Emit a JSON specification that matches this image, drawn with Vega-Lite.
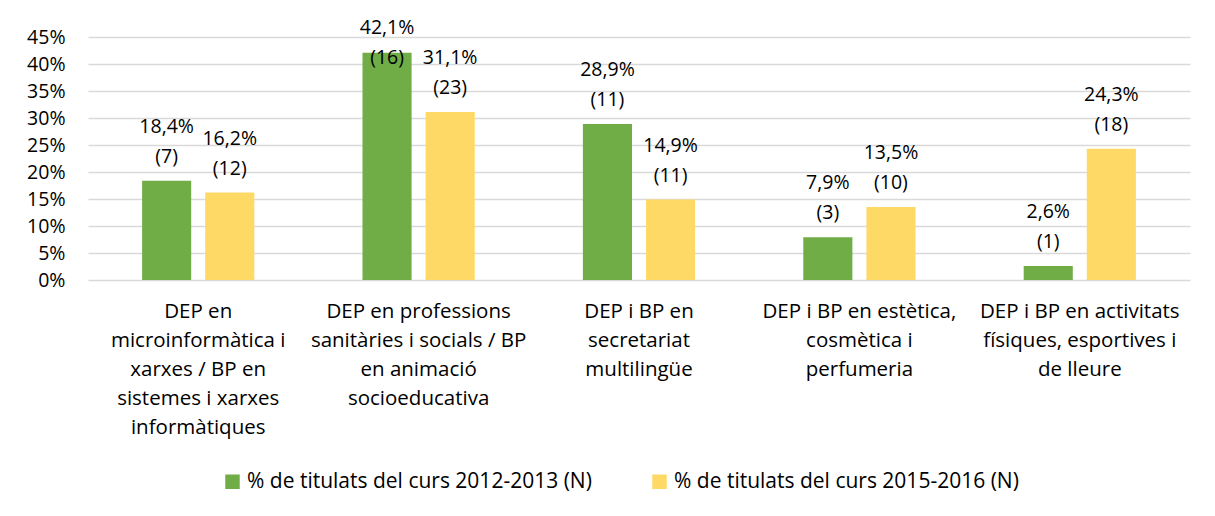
{
  "$schema": "https://vega.github.io/schema/vega-lite/v6.json",
  "width": 1102,
  "height": 243,
  "autosize": {"type": "none"},
  "padding": {"left": 88, "top": 37, "right": 25, "bottom": 236},
  "background": "white",
  "data": {
    "values": [
      {"cat": "DEP en|microinformàtica i|xarxes / BP en|sistemes i xarxes|informàtiques", "series": "% de titulats del curs 2012-2013 (N)", "pct": 0.184, "nLabel": "(7)"},
      {"cat": "DEP en|microinformàtica i|xarxes / BP en|sistemes i xarxes|informàtiques", "series": "% de titulats del curs 2015-2016 (N)", "pct": 0.162, "nLabel": "(12)"},
      {"cat": "DEP en professions|sanitàries i socials / BP|en animació|socioeducativa", "series": "% de titulats del curs 2012-2013 (N)", "pct": 0.421, "nLabel": "(16)"},
      {"cat": "DEP en professions|sanitàries i socials / BP|en animació|socioeducativa", "series": "% de titulats del curs 2015-2016 (N)", "pct": 0.311, "nLabel": "(23)"},
      {"cat": "DEP i BP en|secretariat|multilingüe", "series": "% de titulats del curs 2012-2013 (N)", "pct": 0.289, "nLabel": "(11)"},
      {"cat": "DEP i BP en|secretariat|multilingüe", "series": "% de titulats del curs 2015-2016 (N)", "pct": 0.149, "nLabel": "(11)"},
      {"cat": "DEP i BP en estètica,|cosmètica i|perfumeria", "series": "% de titulats del curs 2012-2013 (N)", "pct": 0.079, "nLabel": "(3)"},
      {"cat": "DEP i BP en estètica,|cosmètica i|perfumeria", "series": "% de titulats del curs 2015-2016 (N)", "pct": 0.135, "nLabel": "(10)"},
      {"cat": "DEP i BP en activitats|físiques, esportives i|de lleure", "series": "% de titulats del curs 2012-2013 (N)", "pct": 0.026, "nLabel": "(1)"},
      {"cat": "DEP i BP en activitats|físiques, esportives i|de lleure", "series": "% de titulats del curs 2015-2016 (N)", "pct": 0.243, "nLabel": "(18)"}
    ]
  },
  "transform": [{"calculate": "min(datum.pct, 0.367)", "as": "labelPos"}],
  "encoding": {
    "x": {
      "field": "cat", "type": "nominal", "sort": null,
      "scale": {"paddingInner": 0, "paddingOuter": 0},
      "axis": {
        "title": null, "domain": false, "ticks": false, "labelAngle": 0,
        "labelExpr": "split(datum.label, '|')",
        "labelFontSize": 20.5, "labelLineHeight": 29, "labelPadding": 21,
        "labelColor": "#000000", "labelLimit": 400, "labelBaseline": "top"
      }
    },
    "xOffset": {
      "field": "series", "type": "nominal",
      "scale": {"paddingInner": 0.222, "paddingOuter": 0.857}
    }
  },
  "layer": [
    {
      "mark": {"type": "bar"},
      "encoding": {
        "y": {
          "field": "pct", "type": "quantitative",
          "scale": {"domain": [0, 0.45], "nice": false},
          "axis": {
            "title": null, "domain": false, "ticks": false,
            "values": [0, 0.05, 0.1, 0.15, 0.2, 0.25, 0.3, 0.35, 0.4, 0.45],
            "labelOverlap": false,
            "format": ".0%", "labelPadding": 23, "labelFontSize": 19.5,
            "labelColor": "#000000", "gridColor": "#D9D9D9", "gridWidth": 1.3
          }
        },
        "color": {
          "field": "series", "type": "nominal",
          "scale": {"range": ["#70AD47", "#FFD966"]},
          "legend": {
            "title": null, "orient": "none", "legendX": 134, "legendY": 434,
            "direction": "horizontal", "symbolType": "square", "symbolSize": 210,
            "symbolStrokeWidth": 0, "labelFontSize": 21, "labelColor": "#000000",
            "columnPadding": 57, "labelLimit": 500, "symbolOffset": 0
          }
        }
      }
    },
    {
      "mark": {"type": "text", "dy": -54, "fontSize": 19.5, "color": "#000000", "baseline": "middle"},
      "encoding": {
        "y": {
          "field": "labelPos", "type": "quantitative",
          "scale": {"domain": [0, 0.45], "nice": false},
          "axis": {
            "title": null, "domain": false, "ticks": false,
            "values": [0, 0.05, 0.1, 0.15, 0.2, 0.25, 0.3, 0.35, 0.4, 0.45],
            "labelOverlap": false,
            "format": ".0%", "labelPadding": 23, "labelFontSize": 19.5,
            "labelColor": "#000000", "gridColor": "#D9D9D9", "gridWidth": 1.3
          }
        },
        "text": {"field": "pct", "type": "quantitative", "format": ".1%"}
      }
    },
    {
      "mark": {"type": "text", "dy": -24, "fontSize": 19.5, "color": "#000000", "baseline": "middle"},
      "encoding": {
        "y": {
          "field": "labelPos", "type": "quantitative",
          "scale": {"domain": [0, 0.45], "nice": false},
          "axis": {
            "title": null, "domain": false, "ticks": false,
            "values": [0, 0.05, 0.1, 0.15, 0.2, 0.25, 0.3, 0.35, 0.4, 0.45],
            "labelOverlap": false,
            "format": ".0%", "labelPadding": 23, "labelFontSize": 19.5,
            "labelColor": "#000000", "gridColor": "#D9D9D9", "gridWidth": 1.3
          }
        },
        "text": {"field": "nLabel", "type": "nominal"}
      }
    }
  ],
  "config": {
    "font": "Open Sans",
    "view": {"stroke": null},
    "locale": {"number": {"decimal": ",", "thousands": ".", "grouping": [3], "currency": ["", " €"]}}
  }
}
